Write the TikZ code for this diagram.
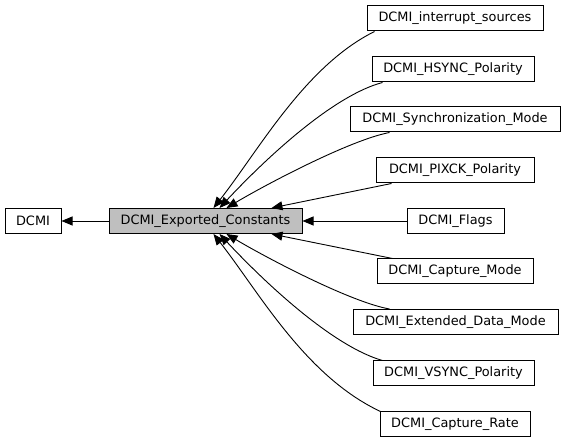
\documentclass[tikz,border=0pt]{standalone}
\usepackage{fontspec}
\setmainfont{DejaVu Sans}
\usetikzlibrary{arrows.meta,calc}
\definecolor{maingray}{HTML}{BFBFBF}
\begin{document}
\begin{tikzpicture}[x=1pt,y=-1pt,
  box/.style={draw=black,line width=1pt,rectangle,inner sep=0pt,minimum height=25pt,
    font=\fontsize{12.9}{15}\selectfont,anchor=center},
  edge/.style={draw=black,line width=0.9pt,-{Triangle[length=11pt,width=9pt]}}]
\useasboundingbox (0,0) rectangle (565,443);
\node[box,minimum width=56pt] (dcmi) at (33,221) {DCMI};
\node[box,fill=maingray,minimum width=193pt] (main) at (205.5,221) {DCMI\_Exported\_Constants};
\node[box,minimum width=176pt] (c1) at (455,18.5) {DCMI\_interrupt\_sources};
\node[box,minimum width=162pt] (c2) at (453,69.5) {DCMI\_HSYNC\_Polarity};
\node[box,minimum width=210pt] (c3) at (455,119.5) {DCMI\_Synchronization\_Mode};
\node[box,minimum width=158pt] (c4) at (455,170.5) {DCMI\_PIXCK\_Polarity};
\node[box,minimum width=97pt] (c5) at (455.5,221) {DCMI\_Flags};
\node[box,minimum width=156pt] (c6) at (455,271.5) {DCMI\_Capture\_Mode};
\node[box,minimum width=205pt] (c7) at (455.5,322) {DCMI\_Extended\_Data\_Mode};
\node[box,minimum width=161pt] (c8) at (453.5,373.5) {DCMI\_VSYNC\_Polarity};
\node[box,minimum width=150pt] (c9) at (455,424.5) {DCMI\_Capture\_Rate};

\draw[edge] (main.west) -- (dcmi.east);

\draw[edge] ($(c1.south west)+(8,0)$) .. controls (305,66) and (259,150) .. ($(main.north west)+(105,0)$);
\draw[edge] ($(c2.south west)+(11,0)$) .. controls (335,95) and (270,154) .. ($(main.north west)+(111,0)$);
\draw[edge] ($(c3.south west)+(40,0)$) .. controls (350,140) and (265,185) .. ($(main.north west)+(118,0)$);
\draw[edge] ($(c4.south west)+(16,0)$) -- ($(main.north west)+(163,0)$);
\draw[edge] (c5.west) -- (main.east);
\draw[edge] ($(c6.north west)+(16,0)$) -- ($(main.south west)+(163,0)$);
\draw[edge] ($(c7.north west)+(37,0)$) .. controls (350,302) and (265,257) .. ($(main.south west)+(118,0)$);
\draw[edge] ($(c8.north west)+(10,0)$) .. controls (335,347) and (270,288) .. ($(main.south west)+(111,0)$);
\draw[edge] ($(c9.north west)+(1,0)$) .. controls (305,376) and (259,292) .. ($(main.south west)+(105,0)$);
\end{tikzpicture}
\end{document}
